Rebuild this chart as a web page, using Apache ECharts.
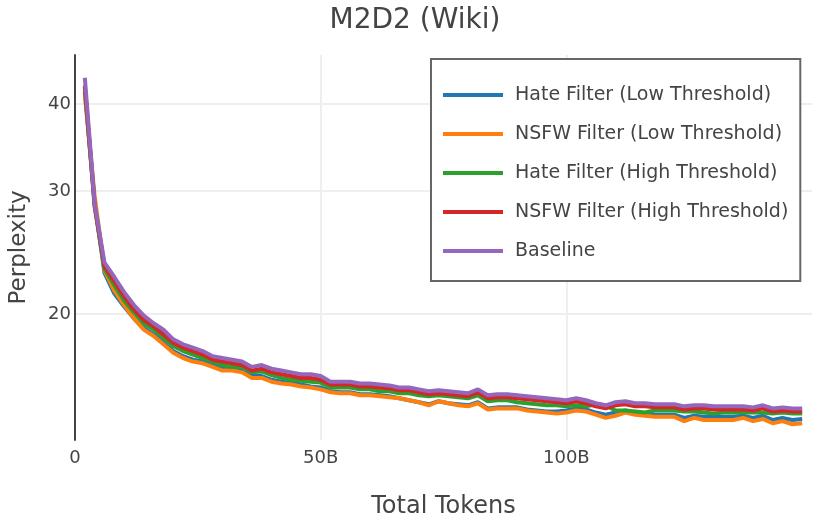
<!DOCTYPE html>
<html>
<head>
<meta charset="utf-8">
<script src="https://cdn.jsdelivr.net/npm/echarts@6/dist/echarts.min.js"></script>
<style>html,body{margin:0;padding:0;background:#fff}#c{width:830px;height:520px}</style>
</head>
<body>
<div id="c"></div>
<script>
const tokens = [2,4,6,8,10,12,14,16,18,20,22,24,26,28,30,32,34,36,38,40,42,44,46,48,50,52,54,56,58,60,62,64,66,68,70,72,74,76,78,80,82,84,86,88,90,92,94,96,98,100,102,104,106,108,110,112,114,116,118,120,122,124,126,128,130,132,134,136,138,140,142,144,146,148];
const seriesNames = ['Hate Filter (Low Threshold)','NSFW Filter (Low Threshold)','Hate Filter (High Threshold)','NSFW Filter (High Threshold)','Baseline'];
const hateLow = [41.6,28.9,22.9,21.4,20.5,19.7,19.1,18.7,18.2,17.7,17.4,17.2,17.1,16.9,16.7,16.7,16.6,16.3,16.3,16.1,16.0,15.95,15.85,15.75,15.7,15.5,15.45,15.45,15.35,15.35,15.3,15.25,15.15,15.05,14.95,14.85,15.0,14.9,14.85,14.8,14.95,14.65,14.7,14.7,14.7,14.6,14.55,14.5,14.5,14.55,14.65,14.6,14.45,14.35,14.45,14.55,14.45,14.4,14.35,14.35,14.35,14.2,14.3,14.25,14.25,14.25,14.25,14.3,14.2,14.3,14.1,14.2,14.1,14.15];
const nsfwLow = [41.4,29.5,23.1,21.6,20.6,19.7,19.0,18.6,18.1,17.6,17.3,17.1,17.0,16.8,16.6,16.6,16.5,16.2,16.2,16.0,15.9,15.85,15.75,15.7,15.6,15.45,15.4,15.4,15.3,15.3,15.25,15.2,15.15,15.05,14.95,14.8,15.0,14.9,14.8,14.75,14.9,14.6,14.65,14.65,14.65,14.55,14.5,14.45,14.4,14.45,14.55,14.5,14.35,14.2,14.3,14.45,14.35,14.3,14.25,14.25,14.25,14.05,14.2,14.1,14.1,14.1,14.1,14.2,14.05,14.15,13.95,14.05,13.9,13.95];
const hateHigh = [42.3,28.5,23.2,22.0,20.9,20.1,19.4,19.0,18.5,18.0,17.7,17.5,17.3,17.1,16.9,16.8,16.8,16.5,16.55,16.35,16.2,16.1,16.05,16.0,15.95,15.7,15.7,15.7,15.6,15.6,15.5,15.5,15.4,15.4,15.3,15.25,15.3,15.25,15.2,15.15,15.3,15.0,15.05,15.05,14.95,14.9,14.85,14.8,14.8,14.75,14.8,14.75,14.85,14.8,14.55,14.55,14.5,14.45,14.55,14.55,14.55,14.5,14.5,14.45,14.4,14.45,14.45,14.45,14.45,14.45,14.4,14.45,14.4,14.4];
const nsfwHigh = [42.5,28.6,23.4,22.3,21.2,20.3,19.6,19.2,18.7,18.2,17.9,17.7,17.5,17.2,17.1,17.0,16.9,16.6,16.7,16.5,16.4,16.3,16.2,16.2,16.1,15.85,15.85,15.85,15.75,15.75,15.7,15.65,15.55,15.55,15.45,15.35,15.4,15.35,15.3,15.25,15.45,15.15,15.2,15.2,15.15,15.1,15.05,15.0,14.95,14.9,15.0,14.9,14.75,14.65,14.8,14.85,14.75,14.75,14.7,14.7,14.7,14.6,14.65,14.65,14.6,14.6,14.6,14.6,14.55,14.65,14.5,14.55,14.5,14.5];
const baseline = [43.6,28.8,23.7,22.6,21.5,20.6,19.9,19.4,19.0,18.4,18.1,17.9,17.7,17.4,17.3,17.2,17.1,16.8,16.9,16.7,16.6,16.5,16.4,16.4,16.3,16.0,16.0,16.0,15.9,15.9,15.85,15.8,15.7,15.7,15.6,15.5,15.55,15.5,15.45,15.4,15.6,15.3,15.35,15.35,15.3,15.25,15.2,15.15,15.1,15.05,15.15,15.05,14.9,14.8,14.95,15.0,14.9,14.9,14.85,14.85,14.85,14.75,14.8,14.8,14.75,14.75,14.75,14.75,14.7,14.8,14.65,14.7,14.65,14.65];
const xTicks = [0,50,100];
const xTickLabels = ['0','50B','100B'];
const yTicks = [20,30,40];
const colors = ['#1f77b4','#ff7f0e','#2ca02c','#d62728','#9467bd'];

const allValues = [hateLow, nsfwLow, hateHigh, nsfwHigh, baseline];
const FONT = 'DejaVu Sans';
const chart = echarts.init(document.getElementById('c'), null, {renderer:'canvas'});
chart.setOption({
  animation: false,
  backgroundColor: '#fff',
  textStyle: {fontFamily: FONT, color: '#444'},
  title: {
    text: 'M2D2 (Wiki)', left: 'center', top: 2,
    textStyle: {fontFamily: FONT, fontSize: 28, fontWeight: 'normal', color: '#444'}
  },
  grid: {left: 75, right: 18, top: 55, bottom: 80, containLabel: false, outerBoundsMode: 'none'},
  legend: {
    orient: 'vertical', left: 431, top: 59,
    padding: [25, 12, 19, 12],
    itemGap: 17, itemWidth: 60, itemHeight: 4, icon: 'rect',
    borderColor: '#666', borderWidth: 2, backgroundColor: '#fff',
    textStyle: {fontFamily: FONT, fontSize: 19, color: '#444', lineHeight: 22, padding: [0,0,0,7]},
    data: seriesNames
  },
  xAxis: {
    type: 'value', min: 0, max: 150, interval: 50,
    axisLine: {show: false}, axisTick: {show: false},
    axisLabel: {
      fontFamily: FONT, fontSize: 18, color: '#444', margin: 9,
      showMaxLabel: false,
      formatter: v => { const i = xTicks.indexOf(v); return i >= 0 ? xTickLabels[i] : ''; }
    },
    splitLine: {show: true, showMinLine: false, showMaxLine: false, lineStyle: {color: '#eee', width: 2}},
    name: 'Total Tokens', nameLocation: 'middle', nameGap: 55,
    nameTextStyle: {fontFamily: FONT, fontSize: 24, color: '#444'}
  },
  yAxis: {
    type: 'log', logBase: 10, min: 13.2, max: 47,
    axisLine: {show: true, lineStyle: {color: '#444', width: 2}},
    axisTick: {show: false, customValues: yTicks},
    axisLabel: {fontFamily: FONT, fontSize: 18, color: '#444', margin: 4, customValues: yTicks},
    splitLine: {show: true, lineStyle: {color: '#eee', width: 2}},
    minorTick: {show: false}, minorSplitLine: {show: false},
    name: 'Perplexity', nameLocation: 'middle', nameGap: 44, nameRotate: 90,
    nameTextStyle: {fontFamily: FONT, fontSize: 23, color: '#444'}
  },
  series: seriesNames.map((n, i) => ({
    name: n, type: 'line', symbol: 'none', showSymbol: false,
    color: colors[i],
    itemStyle: {color: colors[i]},
    lineStyle: {width: 4, color: colors[i]},
    data: tokens.map((t, j) => [t, allValues[i][j]])
  }))
});
</script>
</body>
</html>
